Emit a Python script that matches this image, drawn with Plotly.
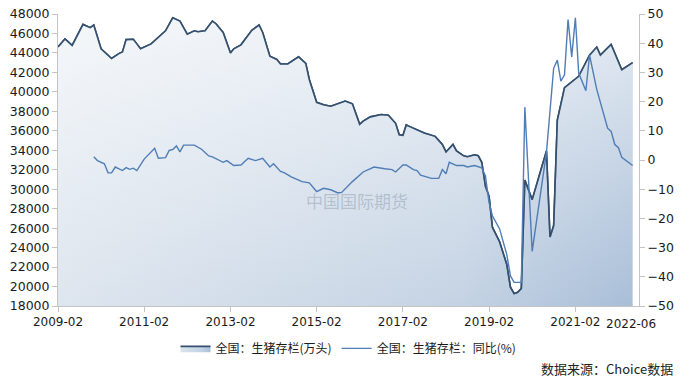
import plotly.graph_objects as go

# 全国：生猪存栏(万头)
stock_dates = [
    "2009-02", "2009-04", "2009-06", "2009-09", "2009-11", "2009-12",
    "2010-02", "2010-03", "2010-05", "2010-07", "2010-08", "2010-09", "2010-11", "2010-12",
    "2011-01", "2011-04", "2011-08", "2011-10", "2011-12",
    "2012-02", "2012-04", "2012-05", "2012-07", "2012-09", "2012-10", "2012-12",
    "2013-02", "2013-03", "2013-05", "2013-08", "2013-10", "2013-11",
    "2014-01", "2014-03", "2014-04", "2014-06", "2014-09", "2014-11", "2014-12",
    "2015-02", "2015-04", "2015-06", "2015-08", "2015-10", "2015-12",
    "2016-02", "2016-03", "2016-05", "2016-08", "2016-10", "2016-12",
    "2017-01", "2017-02", "2017-03", "2017-04", "2017-06", "2017-08", "2017-11",
    "2018-01", "2018-02", "2018-04", "2018-05", "2018-07", "2018-08", "2018-10", "2018-11", "2018-12",
    "2019-01", "2019-02", "2019-03", "2019-05", "2019-07", "2019-08", "2019-09", "2019-10", "2019-11", "2019-12",
    "2020-02", "2020-06", "2020-07", "2020-08", "2020-09", "2020-11",
    "2021-03", "2021-06", "2021-08", "2021-09", "2021-12",
    "2022-03", "2022-06",
]
stock_values = [
    44600, 45430, 44770, 46930, 46600, 46870,
    44430, 44100, 43430, 43930, 44100, 45370, 45400, 44930,
    44430, 44930, 46270, 47600, 47270,
    45930, 46270, 46170, 46270, 47270, 47000, 46100,
    44000, 44430, 44830, 46330, 46870, 46100,
    43670, 43330, 42870, 42870, 43600, 42930, 41270,
    38930, 38670, 38530, 38800, 39050, 38770,
    36670, 37000, 37430, 37670, 37600, 36770,
    35600, 35530, 36600, 36430, 36100, 35770, 35430,
    34600, 33830, 34600, 33930, 33430, 33330, 33530, 33430, 32770,
    30300, 29270, 26100, 24600, 22270, 19930, 19270, 19400, 19800, 30930,
    28930, 33930, 25100, 26270, 37100, 40430,
    41600, 43770, 44600, 43770, 44870,
    42270, 43000,
]

# 全国：生猪存栏：同比(%)
yoy_dates = [
    "2009-12", "2010-01", "2010-03", "2010-04", "2010-05", "2010-06", "2010-08", "2010-09",
    "2010-10", "2010-11", "2010-12", "2011-02", "2011-05", "2011-06", "2011-08", "2011-09",
    "2011-10", "2011-11", "2011-12", "2012-01", "2012-04", "2012-06", "2012-08", "2012-09",
    "2012-12", "2013-01", "2013-03", "2013-05", "2013-07", "2013-09", "2013-11", "2014-01",
    "2014-02", "2014-04", "2014-05", "2014-06", "2014-07", "2014-10", "2014-12", "2015-02",
    "2015-04", "2015-06", "2015-08", "2015-09", "2015-12", "2016-03", "2016-06", "2016-09",
    "2016-11", "2016-12", "2017-02", "2017-03", "2017-05", "2017-06", "2017-07", "2017-10",
    "2017-12", "2018-01", "2018-02", "2018-03", "2018-05", "2018-07", "2018-08", "2018-10",
    "2018-12", "2019-01", "2019-02", "2019-03", "2019-05", "2019-07", "2019-08", "2019-09",
    "2019-11", "2019-12", "2020-02", "2020-06", "2020-08", "2020-09", "2020-10", "2020-11",
    "2020-12", "2021-01", "2021-02", "2021-03", "2021-05", "2021-06", "2021-08", "2021-11",
    "2021-12", "2022-01", "2022-02", "2022-03", "2022-06",
]
yoy_values = [
    1.1, -0.2, -1.3, -4.4, -4.4, -2.4, -3.6, -2.6,
    -3.2, -2.8, -3.6, 0.3, 4.0, 0.6, 0.8, 3.3,
    3.6, 4.8, 2.8, 5.1, 5.1, 3.7, 1.4, 1.1,
    -0.8, -0.2, -1.9, -1.7, 0.6, -0.2, 0.6, -2.4,
    -1.3, -3.9, -4.3, -5.2, -5.8, -7.4, -7.8, -10.8,
    -9.7, -10.2, -11.3, -11.1, -7.4, -4.1, -2.4, -3.0,
    -3.3, -4.1, -1.7, -1.7, -3.3, -3.6, -5.2, -6.3,
    -6.3, -3.3, -4.7, -0.8, -1.9, -1.9, -2.4, -1.9,
    -2.7, -5.5, -14.7, -19.1, -23.6, -32.4, -39.7, -41.9,
    -41.9, 18.1, -31.3, 2.6, 31.4, 34.2, 27.0, 29.2,
    48.1, 35.3, 48.7, 29.8, 23.7, 35.9, 24.2, 10.9,
    9.8, 5.3, 4.2, 0.9, -1.9,
]

x_tick_dates = ["2009-02", "2011-02", "2013-02", "2015-02", "2017-02", "2019-02", "2021-02"]
last_label = "2022-06"

stock_name = "全国：生猪存栏(万头)"
yoy_name = "全国：生猪存栏：同比(%)"

num_font = "DejaVu Sans, Noto Sans CJK SC, sans-serif"
cjk_font = "Noto Sans CJK SC, DejaVu Sans, sans-serif"
axis_col = "#c4c4c4"

fig = go.Figure()

# area with horizontal gradient (legend entry)
fig.add_trace(go.Scatter(
    x=stock_dates, y=stock_values, name=stock_name, mode="lines",
    line=dict(color="#34506e", width=1.6),
    fill="tozeroy",
    fillgradient=dict(type="horizontal",
                      colorscale=[[0, "#dde5ee"], [0.7, "#c3d2e3"], [1, "#a7bdd7"]]),
    yaxis="y",
))
# white vertical overlay to lighten top of the area
fig.add_trace(go.Scatter(
    x=stock_dates, y=stock_values, mode="lines", showlegend=False, hoverinfo="skip",
    line=dict(width=0),
    fill="tozeroy",
    fillgradient=dict(type="vertical", start=18000, stop=48000,
                      colorscale=[[0, "rgba(255,255,255,0)"], [1, "rgba(255,255,255,0.7)"]]),
    yaxis="y",
))
# redraw dark line on top
fig.add_trace(go.Scatter(
    x=stock_dates, y=stock_values, mode="lines", showlegend=False, hoverinfo="skip",
    line=dict(color="#34506e", width=1.6),
    yaxis="y",
))
fig.add_trace(go.Scatter(
    x=yoy_dates, y=yoy_values, name=yoy_name, mode="lines",
    line=dict(color="#4f7db5", width=1.4),
    yaxis="y2",
))

fig.update_layout(
    width=680, height=385,
    margin=dict(l=58, r=39, t=6, b=79),
    paper_bgcolor="white", plot_bgcolor="white",
    font=dict(family=num_font, size=12, color="#1a1a1a"),
    xaxis=dict(
        type="date", range=["2009-02-01", "2022-07-25"],
        tickvals=x_tick_dates, ticktext=x_tick_dates,
        showgrid=False, zeroline=False,
        showline=True, linecolor=axis_col, linewidth=1,
        ticks="outside", ticklen=5, tickcolor=axis_col,
        tickfont=dict(size=12, family=num_font),
    ),
    yaxis=dict(
        range=[18000, 48000], dtick=2000, tick0=18000, tickformat="d",
        ticklabeloverflow="allow",
        showgrid=False, zeroline=False,
        showline=True, linecolor=axis_col, linewidth=1,
        ticks="outside", ticklen=5, tickcolor=axis_col,
        tickfont=dict(size=12.5, family=num_font),
    ),
    yaxis2=dict(
        range=[-50, 50], dtick=10, tick0=-50, tickformat="d",
        ticklabeloverflow="allow",
        overlaying="y", side="right",
        showgrid=False, zeroline=False,
        showline=True, linecolor=axis_col, linewidth=1,
        ticks="outside", ticklen=5, tickcolor=axis_col,
        tickfont=dict(size=12.5, family=num_font),
    ),
    legend=dict(
        orientation="h", x=0.5, xanchor="center", y=-0.145, yanchor="middle",
        font=dict(family=cjk_font, size=12, color="#1a1a1a"),
        bgcolor="rgba(0,0,0,0)",
    ),
    showlegend=True,
)

fig.add_annotation(
    x="2022-05-20", xref="x", y=-0.063, yref="paper", yanchor="middle",
    text=last_label, showarrow=False, font=dict(family=num_font, size=12, color="#1a1a1a"),
)
fig.add_annotation(
    x=0.515, xref="paper", y=0.363, yref="paper",
    text="中国国际期货", showarrow=False,
    font=dict(family=cjk_font, size=17, color="rgba(150,162,180,0.55)"),
)
fig.add_annotation(
    x=1.062, xref="paper", xanchor="right", y=-0.213, yref="paper", yanchor="middle",
    text="数据来源：Choice数据", showarrow=False,
    font=dict(family=cjk_font, size=13, color="#222222"),
)

fig.write_html("out.html")
